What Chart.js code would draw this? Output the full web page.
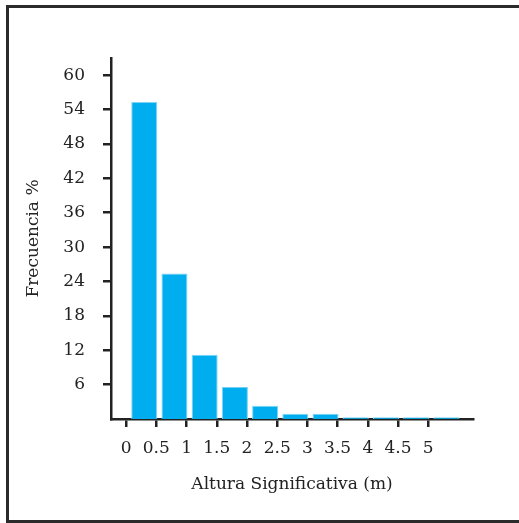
<!DOCTYPE html>
<html>
<head>
<meta charset="utf-8">
<script src="https://cdn.jsdelivr.net/npm/chart.js@4"></script>
<style>
    body { margin: 0; background: #fff; overflow: hidden; }
    #myChart { display: block; }
</style>
</head>
<body>
<canvas id="myChart" width="519" height="523"></canvas>
<script>
// centro de cada barra (m) y frecuencia (%)
const binCenters = [0.3, 0.8, 1.3, 1.8, 2.3, 2.8, 3.3, 3.8, 4.3, 4.8, 5.3];
const frequencies = [55.3, 25.4, 11.2, 5.6, 2.3, 0.9, 0.9, 0.3, 0.3, 0.3, 0.3];
const xTickValues = [0, 0.5, 1, 1.5, 2, 2.5, 3, 3.5, 4, 4.5, 5];
const xTickLabels = ['0', '0.5', '1', '1.5', '2', '2.5', '3', '3.5', '4', '4.5', '5'];
const yTickValues = [6, 12, 18, 24, 30, 36, 42, 48, 54, 60];

const serif = { family: "'DejaVu Serif', serif", size: 17 };
const ink = '#222';

// fondo blanco y marco alrededor de la figura (sin borde derecho, queda cortado)
const framePlugin = {
    id: 'frame',
    beforeDraw(chart) {
        const c = chart.ctx;
        c.save();
        c.fillStyle = '#fff';
        c.fillRect(0, 0, chart.width, chart.height);
        c.restore();
    },
    afterDraw(chart) {
        const c = chart.ctx;
        c.save();
        c.strokeStyle = '#2b2b2b';
        c.lineWidth = 3;
        c.beginPath();
        c.moveTo(chart.width, 6.5);
        c.lineTo(7.5, 6.5);
        c.lineTo(7.5, 521.5);
        c.lineTo(chart.width, 521.5);
        c.stroke();
        c.restore();
    }
};

let myChart;

function generateChart() {
    const ctx = document.getElementById('myChart').getContext('2d');

    const chartData = {
        datasets: [{
            label: 'Frecuencia %',
            data: binCenters.map((x, i) => ({ x: x, y: frequencies[i] })),
            backgroundColor: '#00aeef',
            borderColor: '#7fd3f3',
            borderWidth: 1,
            barPercentage: 0.86,
            categoryPercentage: 1
        }]
    };

    const config = {
        type: 'bar',
        data: chartData,
        plugins: [framePlugin],
        options: {
            responsive: false,
            animation: false,
            layout: { padding: { left: 0, top: 58, right: 46, bottom: 0 } },
            plugins: { legend: { display: false }, tooltip: { enabled: false } },
            scales: {
                x: {
                    type: 'linear',
                    min: -0.25,
                    max: 5.74,
                    offset: false,
                    afterBuildTicks: s => { s.ticks = xTickValues.map(v => ({ value: v })); },
                    afterFit: s => { s.height = 104; },
                    border: { color: ink, width: 2.5 },
                    grid: { drawOnChartArea: false, offset: false, tickLength: 8, color: ink, lineWidth: 2.5 },
                    ticks: {
                        font: serif, color: ink, padding: 11, maxRotation: 0, autoSkip: false,
                        callback: (v, i) => xTickLabels[i]
                    },
                    title: { display: true, text: 'Altura Significativa (m)', font: serif, color: ink, padding: { top: 0, bottom: 28 } }
                },
                y: {
                    min: 0,
                    max: 63,
                    afterBuildTicks: s => { s.ticks = yTickValues.map(v => ({ value: v })); },
                    afterFit: s => { s.width = 111; },
                    border: { color: ink, width: 2.5 },
                    grid: { drawOnChartArea: false, tickLength: 8, color: ink, lineWidth: 2.5 },
                    ticks: { font: serif, color: ink, padding: 18 },
                    title: { display: true, text: 'Frecuencia %', font: serif, color: ink, padding: { top: 23, bottom: 0 } }
                }
            }
        }
    };

    if (myChart) {
        myChart.destroy();
    }
    myChart = new Chart(ctx, config);
}

generateChart();
</script>
</body>
</html>
